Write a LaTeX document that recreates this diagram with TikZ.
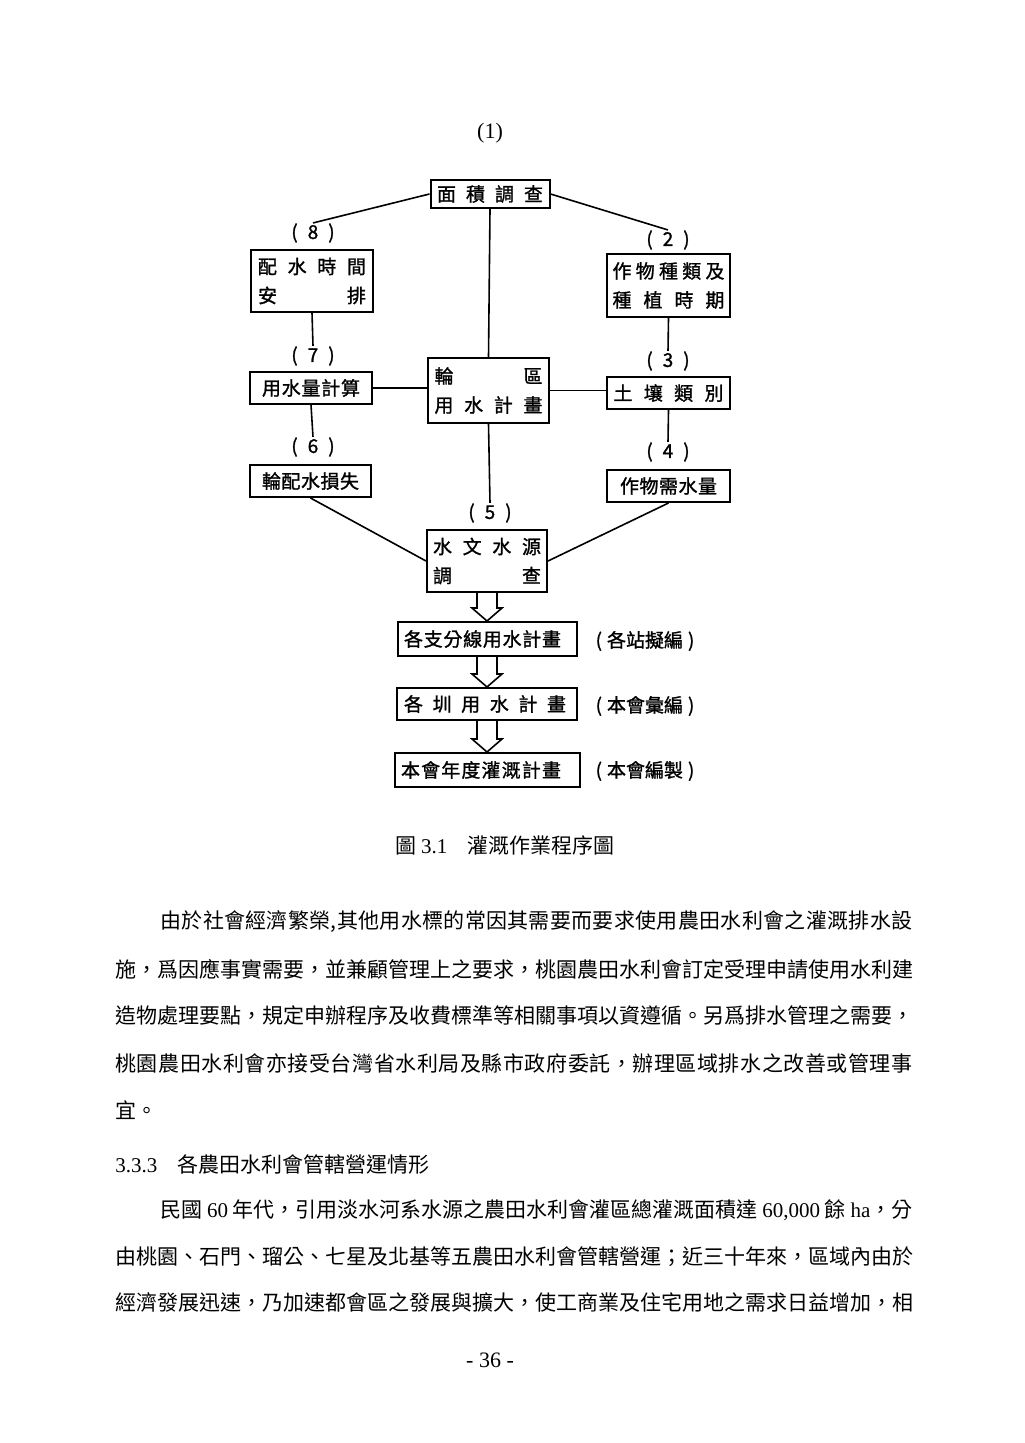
\documentclass[tikz,border=0pt]{standalone}
\usepackage{fontspec}
\setmainfont{Liberation Serif}
\newfontfamily\cjk{Noto Sans CJK TC}
\newfontfamily\cjkbf[FakeBold=1.2]{Noto Sans CJK TC}
\usetikzlibrary{calc,positioning}
\newcommand\lat[1]{{\rmfamily #1}}
\newcommand\spread[2]{\makebox[#1]{#2}}
\newcommand\num[1]{(\hspace{5pt}#1\hspace{5pt})}
\ExplSyntaxOn
\NewDocumentCommand\jline{mm}{\makebox[#1][s]{\tl_map_inline:nn{#2}{##1\hfil}\unskip}}
\ExplSyntaxOff
\newcommand\hollowarrow[2]{%
  \draw[fatarrow] ($(#1.south)+(-10,0)$) -- ($(#2.north)+(-10,-13)$) -- ($(#2.north)+(-15,-13)$)
    -- (#2.north) -- ($(#2.north)+(15,-13)$) -- ($(#2.north)+(10,-13)$) -- ($(#1.south)+(10,0)$);}

\begin{document}
\begin{tikzpicture}[x=0.5pt,y=-0.5pt,
  box/.style={draw,line width=1pt,inner sep=0pt,align=center,font=\cjkbf\fontsize{9.5}{14.5}\selectfont},
  lbl/.style={inner sep=0pt,font=\cjkbf\fontsize{9.5}{10}\selectfont},
  wire/.style={line width=0.8pt},
  fatarrow/.style={line width=0.8pt,fill=white,line join=miter},
  plain/.style={anchor=west,inner sep=0pt,font=\cjk\fontsize{10.5}{12}\selectfont},
  pagetxt/.style={inner sep=0pt,font=\rmfamily\fontsize{11}{12}\selectfont}]
\useasboundingbox (0,0) rectangle (1024,1443);
\fill[white] (0,0) rectangle (1024,1443);

\node[pagetxt] (fignum) at (490,133) {(1)};

% flow chart
\node[box,minimum width=59.5pt,minimum height=14pt] (area) at (490,194) {\spread{53pt}{面\hfill 積\hfill 調\hfill 查}};
\node[box,minimum width=61pt,minimum height=31pt] (sched) at (312,281)
  {\spread{54pt}{配\hfill 水\hfill 時\hfill 間}\\\spread{54pt}{安\hfill 排}};
\node[box,minimum width=61.5pt,minimum height=31.5pt] (crop) at (668.5,285.5)
  {\spread{56pt}{作\hfill 物\hfill 種\hfill 類\hfill 及}\\\spread{56pt}{種\hfill 植\hfill 時\hfill 期}};
\node[box,minimum width=61pt,minimum height=16pt] (calc) at (311,388) {\spread{49pt}{用\hfill 水\hfill 量\hfill 計\hfill 算}};
\node[box,minimum width=60.5pt,minimum height=32.5pt] (plan) at (488.5,390.5)
  {\spread{54pt}{輪\hfill 區}\\\spread{54pt}{用\hfill 水\hfill 計\hfill 畫}};
\node[box,minimum width=61.5pt,minimum height=16pt] (soil) at (668.5,393) {\spread{55pt}{土\hfill 壤\hfill 類\hfill 別}};
\node[box,minimum width=60.5pt,minimum height=16pt] (loss) at (310.5,481) {\spread{48.5pt}{輪\hfill 配\hfill 水\hfill 損\hfill 失}};
\node[box,minimum width=61.5pt,minimum height=16pt] (need) at (668.5,486) {\spread{48.5pt}{作\hfill 物\hfill 需\hfill 水\hfill 量}};
\node[box,minimum width=60pt,minimum height=31pt] (hydro) at (487,561)
  {\spread{54pt}{水\hfill 文\hfill 水\hfill 源}\\\spread{54pt}{調\hfill 查}};
\node[box,minimum width=89.5pt,minimum height=17pt] (branch) at (487,639)
  {\makebox[83pt][l]{\spread{78.5pt}{各\hfill 支\hfill 分\hfill 線\hfill 用\hfill 水\hfill 計\hfill 畫}}};
\node[box,minimum width=90pt,minimum height=16pt] (canal) at (487,704)
  {\makebox[83pt][l]{\spread{81pt}{各\hfill 圳\hfill 用\hfill 水\hfill 計\hfill 畫}}};
\node[box,minimum width=92.5pt,minimum height=17pt] (annual) at (487,770)
  {\makebox[86pt][l]{\spread{80pt}{本\hfill 會\hfill 年\hfill 度\hfill 灌\hfill 溉\hfill 計\hfill 畫}}};

\node[lbl] (n8) at (313,233) {\num{8}};
\node[lbl] (n2) at (668,240) {\num{2}};
\node[lbl] (n7) at (313,356) {\num{7}};
\node[lbl] (n3) at (668,361) {\num{3}};
\node[lbl] (n6) at (313,447) {\num{6}};
\node[lbl] (n4) at (668,452) {\num{4}};
\node[lbl] (n5) at (490,513) {\num{5}};
\node[lbl] (note1) at (645,641) {(\hspace{2.5pt}各站擬編\hspace{2.5pt})};
\node[lbl] (note2) at (645,706) {(\hspace{2.5pt}本會彙編\hspace{2.5pt})};
\node[lbl] (note3) at (645,771) {(\hspace{2.5pt}本會編製\hspace{2.5pt})};

\draw[wire] (area.west) -- (n8.north);
\draw[wire] (area.east) -- (n2.north);
\draw[wire] (area.south) -- (plan.north);
\draw[wire] (sched.south) -- (n7.north);
\draw[wire] (crop.south) -- (n3.north);
\draw[wire] (calc.east) -- (calc.east -| plan.west);
\draw[wire] (plan.east) -- (plan.east -| soil.west);
\draw[wire] (calc.south) -- (n6.north);
\draw[wire] (soil.south) -- (n4.north);
\draw[wire] (plan.south) -- (n5.north);
\draw[wire] (loss.south) -- (hydro.west);
\draw[wire] (need.south) -- (hydro.east);
\hollowarrow{hydro}{branch}
\hollowarrow{branch}{canal}
\hollowarrow{canal}{annual}

\node[plain] (caption) at (395,845) {圖 \lat{3.1}\hspace{10pt}灌溉作業程序圖};

% body text
\node[plain] (pa1) at (160,922) {\jline{376pt}{由於社會經濟繁榮,其他用水標的常因其需要而要求使用農田水利會之灌溉排水設}};
\node[plain] (pa2) at (115,969) {\jline{398.5pt}{施，爲因應事實需要，並兼顧管理上之要求，桃園農田水利會訂定受理申請使用水利建}};
\node[plain] (pa3) at (115,1016) {\jline{398.5pt}{造物處理要點，規定申辦程序及收費標準等相關事項以資遵循。另爲排水管理之需要，}};
\node[plain] (pa4) at (115,1063) {\jline{398.5pt}{桃園農田水利會亦接受台灣省水利局及縣市政府委託，辦理區域排水之改善或管理事}};
\node[plain] (pa5) at (115,1110) {宜。};

\node[plain] (sect) at (115,1165) {\lat{3.3.3}\hspace{10pt}各農田水利會管轄營運情形};

\node[plain] (pb1) at (160,1210) {\jline{376pt}{民國{\lat{\ 60\ }}年代，引用淡水河系水源之農田水利會灌區總灌溉面積達{\lat{\ 60,000\ }}餘{\lat{\ ha}}，分}};
\node[plain] (pb2) at (115,1257) {\jline{398.5pt}{由桃園、石門、瑠公、七星及北基等五農田水利會管轄營運；近三十年來，區域內由於}};
\node[plain] (pb3) at (115,1303) {\jline{398.5pt}{經濟發展迅速，乃加速都會區之發展與擴大，使工商業及住宅用地之需求日益增加，相}};

\node[pagetxt] (pageno) at (490,1360) {- 36 -};
\end{tikzpicture}
\end{document}
